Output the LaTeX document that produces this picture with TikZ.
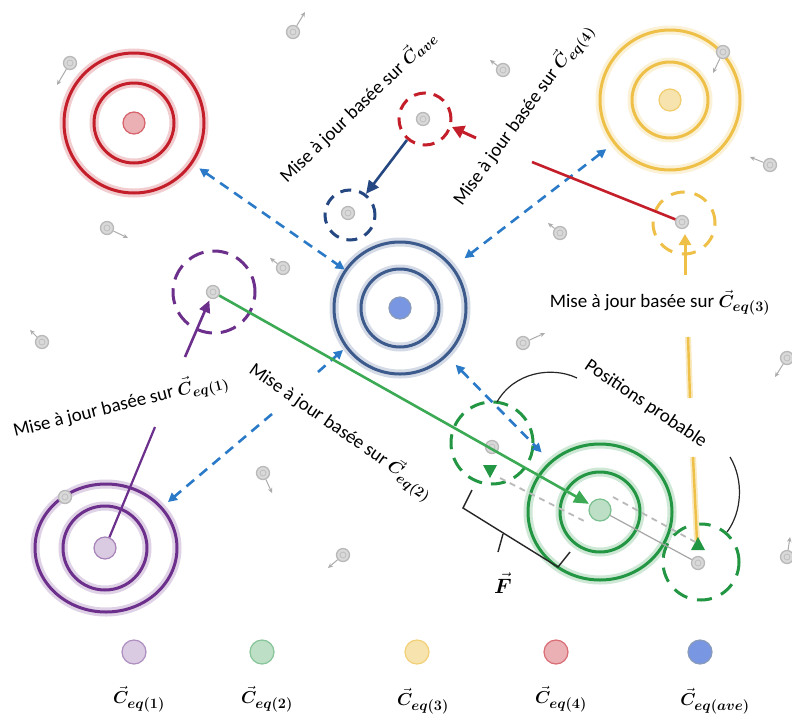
\documentclass[tikz,border=0pt]{standalone}
\usepackage{fontspec}
\setmainfont{Carlito}
\usepackage{amsmath}
\usepackage{bm}
\usetikzlibrary{arrows.meta,shapes.geometric}
\definecolor{cred}{RGB}{196,30,42}
\definecolor{cyel}{RGB}{238,192,72}
\definecolor{cblue}{RGB}{60,90,140}
\definecolor{cpur}{RGB}{108,48,140}
\definecolor{cgreen}{RGB}{34,150,66}
\definecolor{lgreen}{RGB}{60,170,84}
\definecolor{dashblue}{RGB}{42,122,200}
\definecolor{darkblue}{RGB}{38,72,130}
\begin{document}
\begin{tikzpicture}[x=1pt,y=-1pt,
  ringnode/.style={circle, inner sep=0, line width=3, draw=#1, preaction={draw=#1!22, line width=9}},
  ringell/.style={ellipse, inner sep=0, line width=3, draw=#1, preaction={draw=#1!22, line width=9}},
  cdot/.style={circle, inner sep=0, minimum size=22, line width=1.2},
  gdot/.style={circle, inner sep=0, minimum size=13, fill=gray!30, draw=gray!55, line width=1.3,
    path picture={\draw[gray!50, line width=0.8] (path picture bounding box.center) circle[radius=3];}},
  garrow/.style={draw=gray!65, line width=1, -{Stealth[length=5,width=4.5]}},
  dcirc/.style={circle, inner sep=0, line width=3, draw=#1, dash pattern=on 13 off 8},
  bdash/.style={draw=dashblue, line width=2.6, dash pattern=on 10 off 7},
  lbl/.style={font=\fontsize{19}{22}\selectfont, inner sep=0},
  legdot/.style={circle, inner sep=0, minimum size=24, line width=1.2},
  leglbl/.style={font=\fontsize{19}{22}\selectfont, inner sep=0},
]
\useasboundingbox (0,0) rectangle (792,718);
\fill[white] (0,0) rectangle (792,718);

% ---- concentric targets
\node[ringnode=cred, minimum size=140] (R) at (134,123) {};
\node[ringnode=cred, minimum size=80] (Ri) at (134,123) {};
\node[ringnode=cyel, minimum size=140] (Y) at (670,100) {};
\node[ringnode=cyel, minimum size=76] (Yi) at (670,100) {};
\node[ringnode=cblue, minimum size=132] (B) at (400,308) {};
\node[ringnode=cblue, minimum size=78] (Bi) at (400,308) {};
\node[ringell=cpur, minimum width=142, minimum height=128] (P) at (106,548) {};
\node[ringnode=cpur, minimum size=84] (Pi) at (105,548) {};
\node[ringell=cgreen, minimum width=144, minimum height=136] (G) at (600,512) {};
\node[ringnode=cgreen, minimum size=80] (Gi) at (600,512) {};

% ---- dashed circles
\node[dcirc=cred, minimum size=52, dash pattern=on 12 off 8] (rdc) at (425,119) {};
\node[dcirc=darkblue, minimum size=50, dash pattern=on 11 off 8] (bdc) at (350,215) {};
\node[dcirc=cpur, minimum size=82, dash pattern=on 16 off 9] (pdc) at (214,292) {};
\node[dcirc=cyel, minimum size=62, dash pattern=on 14 off 10] (ydc) at (684,223) {};
\node[dcirc=cgreen, minimum size=82, dash pattern=on 15 off 9] (gdl) at (492,443) {};
\node[dcirc=cgreen, minimum size=76, dash pattern=on 15 off 10] (gdr) at (701,562) {};

% ---- centre dots
\node[cdot, fill=cred!35, draw=cred!70] (cR) at (134,123) {};
\node[cdot, fill=cyel!45, draw=cyel!80] (cY) at (670,100) {};
\node[cdot, fill={rgb,255:red,120;green,150;blue,225}, draw=cblue!60] (cB) at (400,308) {};
\node[cdot, fill=cpur!25, draw=cpur!60] (cP) at (105,548) {};
\node[cdot, fill=cgreen!30, draw=cgreen!60] (cG) at (600,510) {};

% ---- gray dots in dashed circles
\node[gdot] (rd) at (423,119) {};
\node[gdot] (bd) at (348,213) {};
\node[gdot] (pd) at (213,292) {};
\node[gdot] (yd) at (682,222) {};
\node[gdot] (gl) at (492,447) {};
\node[gdot] (gr) at (698,563) {};

% ---- blue dashed arrows between targets
\draw[bdash, {Triangle[length=9,width=9]}-{Triangle[length=9,width=9]}, shorten <=8] (R) -- (B);
\draw[bdash, {Triangle[length=9,width=9]}-{Triangle[length=9,width=9]}, shorten <=9, shorten >=14] (Y) -- (B);
\draw[bdash, {Triangle[length=9,width=9]}-{Triangle[length=9,width=9]}, shorten <=12, shorten >=12] (B) -- (G);
\coordinate (pb1) at (318,372);
\coordinate (pbB) at (343,350);
\coordinate (pb2) at (272,414);
\coordinate (pbP) at (168,502);
\draw[bdash, -{Triangle[length=9,width=9]}] (pb1) -- (pbB);
\draw[bdash, -{Triangle[length=9,width=9]}] (pb2) -- (pbP);

% ---- other connectors
\coordinate (rA) at (476,138);
\coordinate (rB) at (452,127);
\draw[cred, line width=3, -{Triangle[length=12,width=13]}] (rA) -- (rB);
\coordinate (dA) at (407,140);
\draw[darkblue, line width=2.6, -{Triangle[length=13,width=12]}] (dA) -- (bdc);
\coordinate (redS) at (532,162);
\draw[cred, line width=2.6] (redS) -- (yd);
\coordinate (yA) at (685,275);
\coordinate (yB) at (685,234);
\draw[cyel, line width=3, -{Triangle[length=11,width=12]}] (yA) -- (yB);
\coordinate (pA) at (185,357);
\draw[cpur, line width=2.6, -{Triangle[length=12,width=11]}, shorten >=2] (pA) -- (pd);
\coordinate (pL) at (155,427);
\draw[cpur, line width=2.2] (cP) -- (pL);
\draw[lgreen, line width=2.6, -{Triangle[length=15,width=13]}, shorten >=1] (pd) -- (cG);

% yellow line towards the right dashed circle
\coordinate (y1) at (688,337);
\coordinate (y2) at (690,398);
\coordinate (y3) at (693,457);
\coordinate (y4) at (697,541);
\draw[cyel!35, line width=6] (y1) -- (y2) (y3) -- (y4);
\draw[cyel, line width=2.4] (y1) -- (y2) (y3) -- (y4);
\fill[cgreen] (698,537) -- (691,550) -- (705,550) -- cycle;
\fill[cgreen] (483,465) -- (497,465) -- (490,478) -- cycle;

% gray dotted / solid lines of the displacement
\coordinate (d1) at (500,478);
\coordinate (d2) at (588,523);
\coordinate (d3) at (613,497);
\coordinate (d4) at (697,543);
\draw[gray!55, line width=1.8, dash pattern=on 6 off 5] (d1) -- (d2);
\draw[gray!55, line width=1.8, dash pattern=on 6 off 5] (d3) -- (d4);
\draw[gray!70, line width=1.2] (cG) -- (gr);

% arcs "positions probable"
\coordinate (aL1) at (497,402);
\coordinate (aL2) at (577,378);
\coordinate (aR1) at (730,457);
\coordinate (aR2) at (727,532);
\draw[gray!30!black, line width=1.2] (aL1) .. controls (514,372) and (552,366) .. (aL2);
\draw[gray!30!black, line width=1.2] (aR1) .. controls (744,480) and (742,512) .. (aR2);

% brace
\coordinate (b1) at (472,490);
\coordinate (b2) at (463,508);
\coordinate (b3) at (558,567);
\coordinate (b4) at (570,552);
\coordinate (bc1) at (503,534);
\coordinate (bc2) at (498,552);
\draw[gray!30!black, line width=1.4] (b1) -- (b2) -- (b3) -- (b4);
\draw[gray!30!black, line width=1.4] (bc1) -- (bc2);

% ---- free gray dots with small arrows
\foreach \n/\p/\q in {1/{293,32}/{305,12}, 2/{70,63}/{57,85}, 3/{107,228}/{128,238},
  4/{503,70}/{490,60}, 5/{723,52}/{713,73}, 6/{770,165}/{750,157}, 7/{560,233}/{548,223},
  8/{283,268}/{270,258}, 9/{42,342}/{30,330}, 10/{263,473}/{272,493}, 11/{343,555}/{328,568},
  12/{523,343}/{545,333}, 13/{787,358}/{775,377}, 14/{787,557}/{790,537}}{
  \node[gdot] (g\n) at (\p) {};
  \coordinate (ga\n) at (\q);
  \draw[garrow] (g\n) -- (ga\n);
}
\node[gdot] (g15) at (65,497) {};

% ---- labels
\node[lbl, rotate=14, anchor=base west] (t1) at (15,437) {Mise à jour basée sur $\vec{\bm C}_{\bm{eq(1)}}$};
\node[lbl, rotate=-35, anchor=base west] (t2) at (248,372) {Mise à jour basée sur $\vec{\bm C}_{\bm{eq(2)}}$};
\node[lbl] (t3) at (660,303) {Mise à jour basée sur $\vec{\bm C}_{\bm{eq(3)}}$};
\node[lbl, rotate=54, anchor=base west] (t4) at (462,207) {Mise à jour basée sur $\vec{\bm C}_{\bm{eq(4)}}$};
\node[lbl, rotate=44, anchor=base west] (t5) at (287,184) {Mise à jour basée sur $\vec{\bm C}_{\bm{ave}}$};
\node[lbl, rotate=-34, anchor=north west] (t6) at (591,357) {Positions probable};
\node[font=\fontsize{22}{24}\selectfont, inner sep=0] (tF) at (503,583) {$\vec{\bm F}$};

% ---- legend
\node[legdot, fill=cpur!25, draw=cpur!55] (L1) at (134,652) {};
\node[legdot, fill=cgreen!30, draw=cgreen!55] (L2) at (262,652) {};
\node[legdot, fill=cyel!45, draw=cyel!75] (L3) at (417,652) {};
\node[legdot, fill=cred!35, draw=cred!65] (L4) at (556,652) {};
\node[legdot, fill={rgb,255:red,120;green,150;blue,225}, draw=cblue!60] (L5) at (700,652) {};
\node[leglbl] (l1) at (139,699) {$\vec{\bm C}_{\bm{eq(1)}}$};
\node[leglbl] (l2) at (267,699) {$\vec{\bm C}_{\bm{eq(2)}}$};
\node[leglbl] (l3) at (423,701) {$\vec{\bm C}_{\bm{eq(3)}}$};
\node[leglbl] (l4) at (561,699) {$\vec{\bm C}_{\bm{eq(4)}}$};
\node[leglbl] (l5) at (715,701) {$\vec{\bm C}_{\bm{eq(ave)}}$};
\end{tikzpicture}
\end{document}
